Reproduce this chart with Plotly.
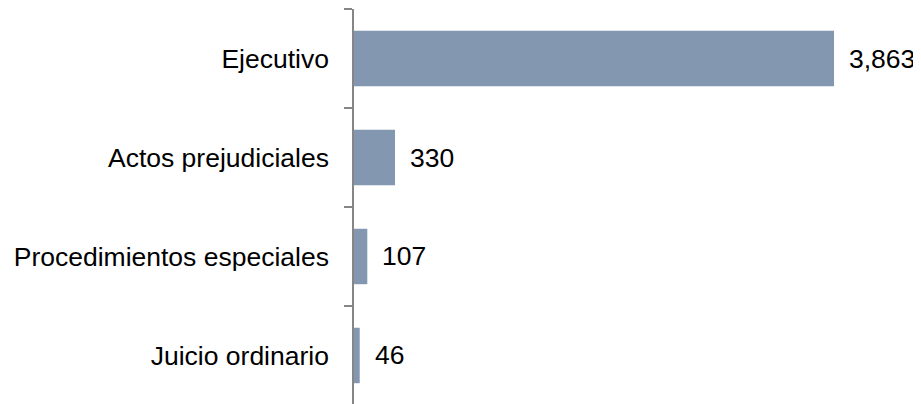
import plotly.graph_objects as go

categories = ["Juicio ordinario", "Procedimientos especiales", "Actos prejudiciales", "Ejecutivo"]
values = [46, 107, 330, 3863]
labels = [f"{v:,}" for v in values]

bar_color = "#8497B0"
font_family = "Liberation Sans, Arial, sans-serif"
font_size = 26.5

fig = go.Figure()
fig.add_trace(go.Bar(
    x=values, y=categories, orientation="h",
    marker=dict(color=bar_color, line=dict(width=0)),
    width=0.56,
    hoverinfo="skip",
))

for c, v, t in zip(categories, values, labels):
    fig.add_annotation(
        x=v, y=c, text=t, showarrow=False,
        xanchor="left", yanchor="middle", xshift=13,
        font=dict(family=font_family, size=font_size, color="#000000"),
    )

fig.update_layout(
    width=913, height=396,
    margin=dict(l=346, r=0, t=1, b=0),
    paper_bgcolor="white", plot_bgcolor="white",
    showlegend=False,
    font=dict(family=font_family, size=font_size, color="#000000"),
)
fig.update_xaxes(
    range=[0, 4563], visible=False, showgrid=False, zeroline=False,
)
fig.update_yaxes(
    type="category", categoryorder="array", categoryarray=categories,
    range=[-0.49, 3.5],
    showline=True, linecolor="#868686", linewidth=1.5,
    ticks="outside", tickson="boundaries", ticklen=8, tickcolor="#868686", tickwidth=1.5,
    ticklabelstandoff=18,
    showgrid=False, zeroline=False, automargin=False,
    tickfont=dict(family=font_family, size=font_size, color="#000000"),
)

fig.write_html("out.html")
